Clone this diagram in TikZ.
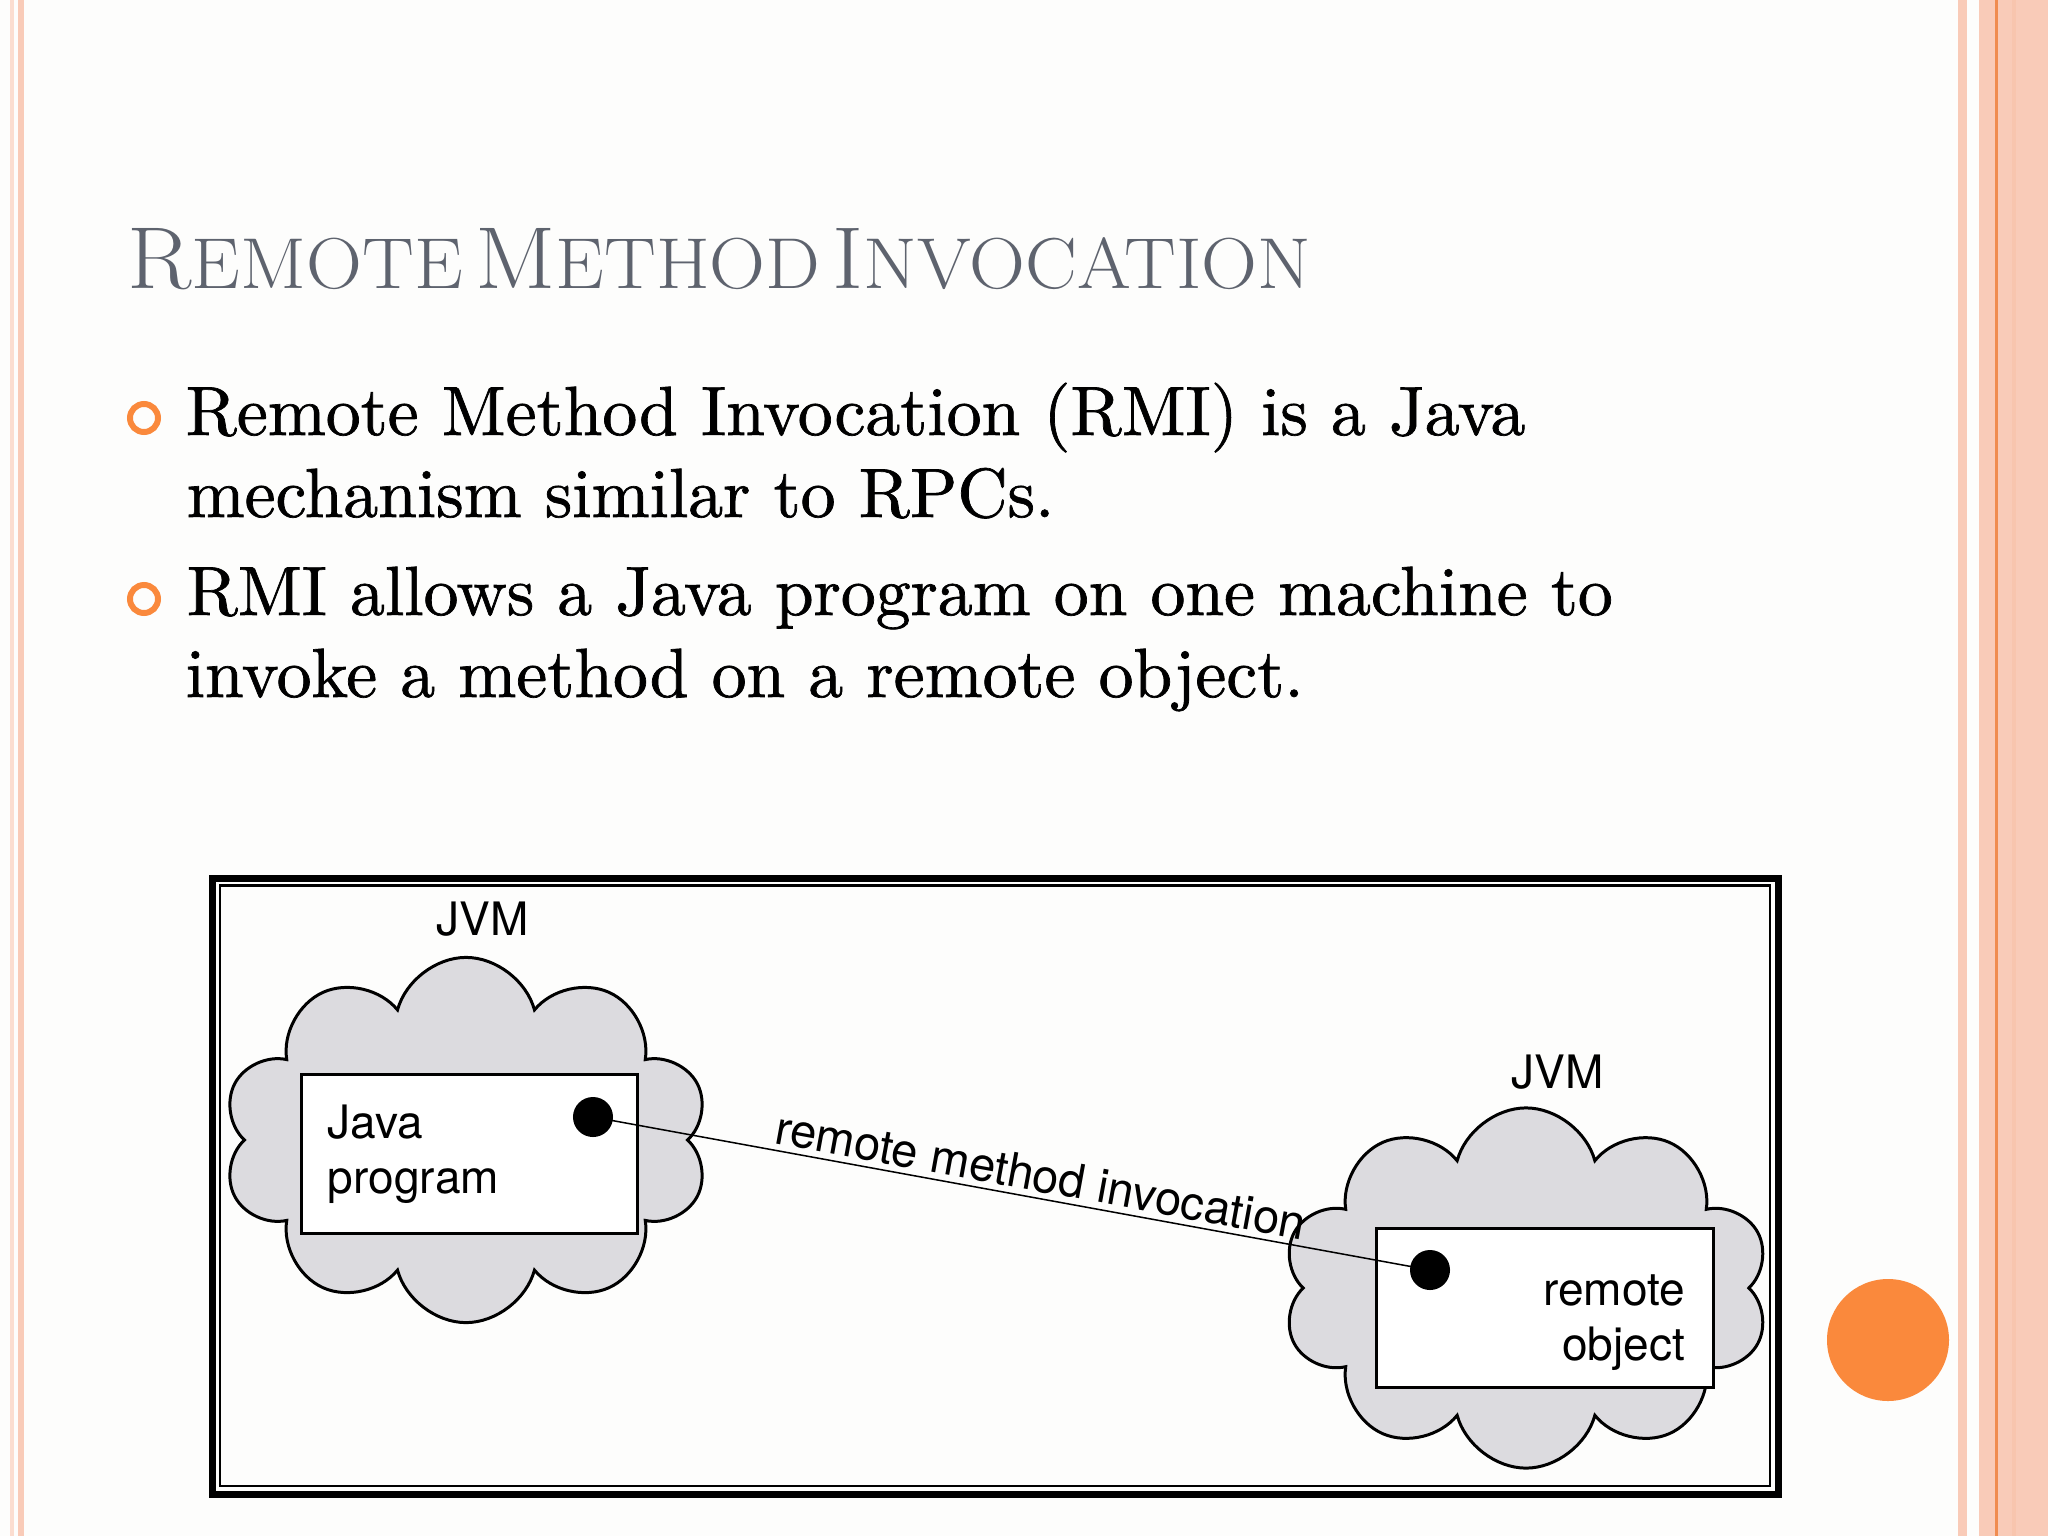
\documentclass[tikz,border=0pt]{standalone}
\usepackage{fontspec}
\newfontfamily\helv{TeX Gyre Heros}
\newfontfamily\bodyserif{lmroman10-regular.otf}[FakeBold=1]
\usetikzlibrary{shapes.symbols}

\definecolor{slidebg}{RGB}{253,253,252}
\definecolor{titlegray}{RGB}{94,99,110}
\definecolor{accent}{RGB}{250,137,60}
\definecolor{stripe}{RGB}{249,203,184}
\definecolor{stripelight}{RGB}{251,221,208}
\definecolor{stripeline}{RGB}{240,140,80}
\definecolor{cloudgray}{RGB}{220,219,223}

% capital letter big, rest in smaller capitals
\newcommand{\capword}[2]{{\fontsize{25}{30}\selectfont #1}{\fontsize{20.5}{25}\selectfont #2}}

\begin{document}
\begin{tikzpicture}[
        x=0.01cm, y=-0.01cm,
        slidetitle/.style={anchor=base west, inner sep=0, text=titlegray},
        bodyline/.style={anchor=base west, inner sep=0, font=\bodyserif\fontsize{19.8}{23}\selectfont},
        bullet/.style={circle, draw=accent, line width=1.7pt, minimum size=0.28cm, inner sep=0},
        jvm/.style={cloud, cloud puffs=10, aspect=1.33, draw, line width=0.85pt, fill=cloudgray, inner sep=0},
        jvmlabel/.style={anchor=base, inner sep=0, font=\helv\fontsize{13.1}{15.6}\selectfont},
        progbox/.style={draw, fill=white, line width=0.85pt, inner sep=0, minimum height=1.58cm,
            font=\helv\fontsize{13.1}{15.6}\selectfont},
        ref/.style={circle, fill=black, minimum size=0.4cm, inner sep=0},
        link/.style={line width=0.43pt},
    ]
    \fill[slidebg] (0,0) rectangle (2048,1536);
    \useasboundingbox (0,0) rectangle (2048,1536);

    % slide border
    \fill[stripelight] (10,0) rectangle (14,1536);
    \fill[stripe] (18,0) rectangle (24,1536);
    \fill[stripe] (1958,0) rectangle (1967,1536);
    \fill[stripe] (1979,0) rectangle (2048,1536);
    \fill[stripeline] (1995,0) rectangle (1998,1536);
    \fill[stripe!90!stripeline] (2012,0) rectangle (2016,1536);
    \fill[accent] (1888,1340) circle (61);

    % title and bullets
    \node[slidetitle] (title) at (127,288)
        {\scalebox{1.075}[1]{\capword{R}{EMOTE} \capword{M}{ETHOD} \capword{I}{NVOCATION}}};
    \node[bullet] (b1) at (144,418) {};
    \node[bodyline] (l1) at (185,435) {Remote Method Invocation (RMI) is a Java};
    \node[bodyline] (l2) at (186,517) {mechanism similar to RPCs.};
    \node[bullet] (b2) at (144,599) {};
    \node[bodyline] (l3) at (186,615) {RMI allows a Java program on one machine to};
    \node[bodyline] (l4) at (185,697) {invoke a method on a remote object.};

    % figure frame
    \draw[line width=2pt] (212.5,878.5) rectangle (1778,1494);
    \draw[line width=0.7pt] (220,885.5) rectangle (1770,1486);

    \node[jvm, minimum width=4.86cm, minimum height=3.65cm] (jvmL) at (466,1140) {};
    \node[jvm, minimum width=4.87cm, minimum height=3.6cm] (jvmR) at (1526,1288) {};
    \node[jvmlabel] (jvmLlabel) at (483,935) {JVM};
    \node[jvmlabel] (jvmRlabel) at (1558,1088) {JVM};

    \node[progbox, minimum width=3.35cm, text width=2.83cm, align=left] (prog) at (469.5,1154)
        {Java\\program};
    \node[progbox, minimum width=3.36cm, text width=2.8cm, align=right] (obj) at (1545,1308)
        {\rule{0pt}{1.3em}remote\\object};

    \draw[link] (593,1117) coordinate (callsite) -- (1430,1270) coordinate (target)
        node[pos=0.53, sloped, above, inner sep=1.5pt, font=\helv\fontsize{13.4}{15.6}\selectfont]
        (rmilabel) {remote method invocation};
    \node[ref] (dotL) at (callsite) {};
    \node[ref] (dotR) at (target) {};

\end{tikzpicture}
\end{document}
